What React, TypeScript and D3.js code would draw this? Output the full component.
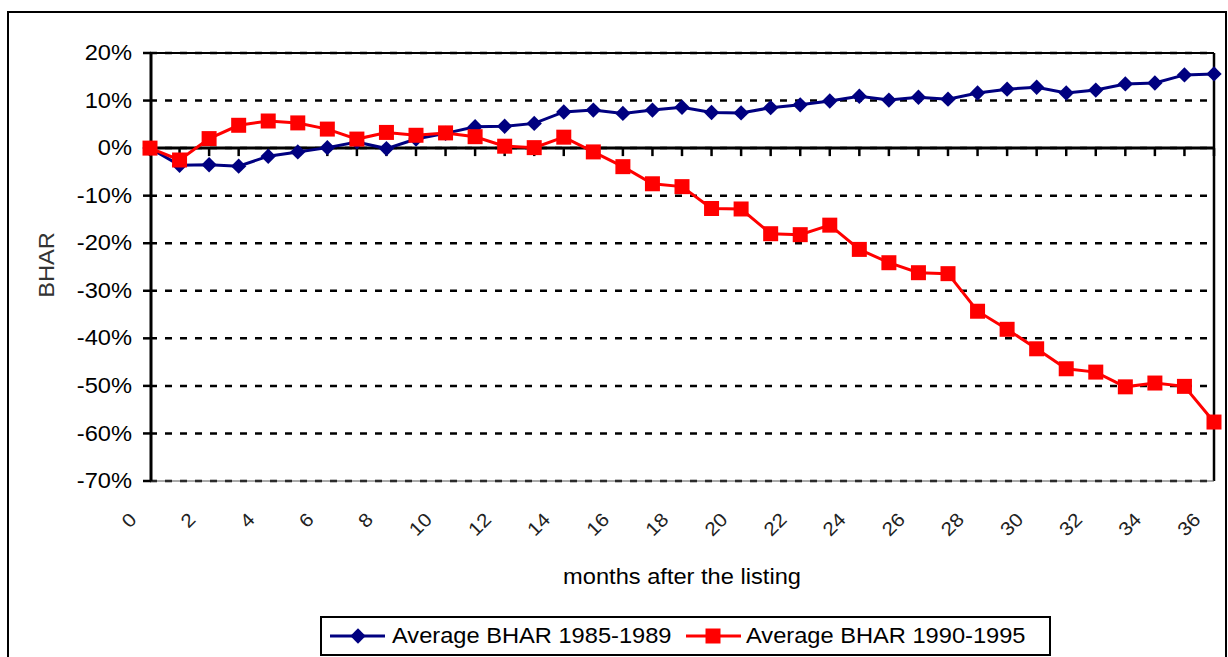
import React from "react";
import * as d3 from "d3";

const months: number[] = Array.from({ length: 37 }, (_, i) => i);
const tickLabels: number[] = [0, 2, 4, 6, 8, 10, 12, 14, 16, 18, 20, 22, 24, 26, 28, 30, 32, 34, 36];
const yTicks: number[] = [20, 10, 0, -10, -20, -30, -40, -50, -60, -70];

const bhar8589: number[] = [
  0, -3.6, -3.5, -3.8, -1.7, -0.8, 0.1, 1.3, -0.1, 1.9, 3.1, 4.5, 4.6, 5.2, 7.6, 8.0, 7.3, 8.0, 8.6,
  7.5, 7.4, 8.5, 9.1, 9.9, 10.9, 10.1, 10.7, 10.3, 11.6, 12.4, 12.8, 11.6, 12.2, 13.5, 13.7, 15.4, 15.6,
];
const bhar9095: number[] = [
  0, -2.5, 2.0, 4.8, 5.7, 5.3, 4.0, 1.9, 3.3, 2.7, 3.2, 2.4, 0.4, 0.1, 2.3, -0.8, -3.9, -7.5, -8.1,
  -12.7, -12.8, -18.0, -18.2, -16.2, -21.3, -24.1, -26.2, -26.4, -34.3, -38.1, -42.2, -46.4, -47.1,
  -50.2, -49.4, -50.1, -57.6,
];
const seriesNames: string[] = ["Average BHAR 1985-1989", "Average BHAR 1990-1995"];
const xTitle = "months after the listing";
const yTitle = "BHAR";

const FONT = "'Liberation Sans', Arial, sans-serif";
const SX = 1.1;
const FS = 21.5;
const BLUE = "#000080";
const RED = "#FF0000";

export default function App() {
  const x = d3.scaleLinear().domain([0, 36]).range([150, 1214]);
  const y = d3.scaleLinear().domain([-70, 20]).range([481, 53]);
  const line = d3
    .line<number>()
    .x((_, i) => x(months[i]))
    .y((d) => y(d));
  const square = d3.symbol(d3.symbolSquare, 225)()!;
  const diamond = d3.symbol(d3.symbolSquare, 118)()!;

  const legY = 636;

  return (
    <svg
      width={1228}
      height={657}
      style={{ position: "absolute", left: 0, top: 0, background: "#fff" }}
      fontFamily={FONT}
    >
      <rect x={0} y={0} width={1228} height={657} fill="#fff" />
      {/* outer chart border */}
      <rect x={8} y={12} width={1218} height={670} fill="none" stroke="#000" strokeWidth={2} />

      {/* gridlines */}
      {yTicks.map((t) => (
        <line
          key={"g" + t}
          x1={150}
          x2={1214}
          y1={y(t)}
          y2={y(t)}
          stroke="#000"
          strokeWidth={2.5}
          strokeDasharray="7,8"
        />
      ))}
      {/* plot area border */}
      <line x1={150} x2={1214} y1={y(20)} y2={y(20)} stroke="#000" strokeWidth={2} />
      <line x1={1214} x2={1214} y1={y(20)} y2={y(-70)} stroke="#000" strokeWidth={2.5} />
      <line x1={150} x2={1214} y1={y(-70)} y2={y(-70)} stroke="#555" strokeWidth={1} />

      {/* y axis */}
      <line x1={151} x2={151} y1={y(20)} y2={y(-70)} stroke="#000" strokeWidth={3} />
      {yTicks.map((t) => (
        <g key={"yt" + t}>
          <line x1={143} x2={151} y1={y(t)} y2={y(t)} stroke="#000" strokeWidth={2.5} />
          <text
            transform={`translate(132,${y(t)}) scale(${SX},1)`}
            textAnchor="end"
            dominantBaseline="central"
            fontSize={FS}
            fill="#000"
          >
            {t}%
          </text>
        </g>
      ))}

      {/* x axis at 0% */}
      <line x1={150} x2={1214} y1={y(0)} y2={y(0)} stroke="#000" strokeWidth={3} />
      {months.map((m) => (
        <line key={"xt" + m} x1={x(m)} x2={x(m)} y1={y(0)} y2={y(0) + 8} stroke="#000" strokeWidth={2.5} />
      ))}
      {tickLabels.map((m) => (
        <text
          key={"xl" + m}
          transform={`translate(${x(m) - 17},516) rotate(-45) scale(${SX},1)`}
          textAnchor="end"
          dominantBaseline="central"
          fontSize={19}
          fill="#222"
        >
          {m}
        </text>
      ))}

      {/* axis titles */}
      <text
        transform={`translate(682,577) scale(${SX},1)`}
        textAnchor="middle"
        dominantBaseline="central"
        fontSize={FS}
        fill="#000"
      >
        {xTitle}
      </text>
      <text
        transform={`translate(47,265) rotate(-90) scale(${SX},1)`}
        textAnchor="middle"
        dominantBaseline="central"
        fontSize={FS}
        fill="#333"
      >
        {yTitle}
      </text>

      {/* series lines */}
      <path d={line(bhar8589)!} fill="none" stroke={BLUE} strokeWidth={3} />
      <path d={line(bhar9095)!} fill="none" stroke={RED} strokeWidth={3} />
      {bhar8589.map((v, i) => (
        <path
          key={"b" + i}
          d={diamond}
          transform={`translate(${x(months[i])},${y(v)}) rotate(45)`}
          fill={BLUE}
        />
      ))}
      {bhar9095.map((v, i) => (
        <path key={"r" + i} d={square} transform={`translate(${x(months[i])},${y(v)})`} fill={RED} />
      ))}

      {/* legend */}
      <rect x={321} y={617} width={729} height={38} fill="#fff" stroke="#000" strokeWidth={2} />
      <line x1={330} x2={385} y1={legY} y2={legY} stroke={BLUE} strokeWidth={3} />
      <path d={diamond} transform={`translate(358,${legY}) rotate(45)`} fill={BLUE} />
      <text
        transform={`translate(392,${legY}) scale(${SX},1)`}
        dominantBaseline="central"
        fontSize={FS}
        fill="#000"
      >
        {seriesNames[0]}
      </text>
      <line x1={686} x2={741} y1={legY} y2={legY} stroke={RED} strokeWidth={3} />
      <path d={square} transform={`translate(713,${legY})`} fill={RED} />
      <text
        transform={`translate(746,${legY}) scale(${SX},1)`}
        dominantBaseline="central"
        fontSize={FS}
        fill="#000"
      >
        {seriesNames[1]}
      </text>
    </svg>
  );
}
